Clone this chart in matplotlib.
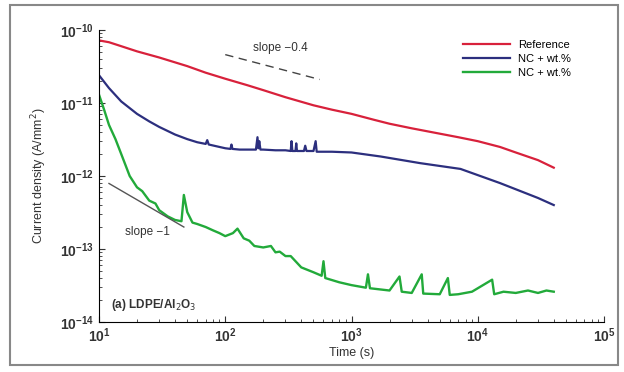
import matplotlib
matplotlib.use("Agg")
import matplotlib.pyplot as plt
from matplotlib.patches import Rectangle

plt.rcParams['font.family'] = ['Liberation Sans', 'DejaVu Sans']

# ---- data ----
t_ref = [10, 12, 15, 20, 30, 50, 70, 100, 150, 200, 300, 500, 700, 1000, 1500,
         2000, 3000, 5000, 7000, 10000, 15000, 20000, 30000, 40000]
j_ref = [7.2e-11, 6.8e-11, 6.0e-11, 5.1e-11, 4.2e-11, 3.2e-11, 2.6e-11, 2.15e-11,
         1.75e-11, 1.5e-11, 1.2e-11, 9.3e-12, 8.1e-12, 7.1e-12, 5.9e-12, 5.2e-12,
         4.5e-12, 3.8e-12, 3.4e-12, 3.0e-12, 2.5e-12, 2.1e-12, 1.65e-12, 1.3e-12]

t_nc1 = [10, 12, 15, 20, 25, 30, 40, 50, 60, 70, 72, 74, 90, 100, 110, 112, 114,
         130, 150, 175, 180, 183, 186, 190, 200, 250, 300, 330, 335, 340, 360, 365,
         370, 420, 430, 440, 500, 520, 530, 560, 700, 1000, 1700, 3500, 7300,
         15000, 30000, 40000]
j_nc1 = [2.4e-11, 1.6e-11, 1.05e-11, 7.1e-12, 5.6e-12, 4.7e-12, 3.7e-12, 3.2e-12,
         2.9e-12, 2.75e-12, 3.1e-12, 2.7e-12, 2.5e-12, 2.4e-12, 2.35e-12, 2.7e-12,
         2.35e-12, 2.3e-12, 2.3e-12, 2.3e-12, 3.4e-12, 2.4e-12, 3.0e-12, 2.3e-12,
         2.3e-12, 2.25e-12, 2.25e-12, 2.2e-12, 3.0e-12, 2.2e-12, 2.2e-12, 2.8e-12,
         2.2e-12, 2.2e-12, 2.6e-12, 2.2e-12, 2.2e-12, 3.0e-12, 2.15e-12, 2.15e-12,
         2.15e-12, 2.1e-12, 1.85e-12, 1.5e-12, 1.25e-12, 8.0e-13, 5.0e-13, 4.0e-13]

t_nc2 = [10, 11, 12, 13.5, 15, 17.5, 20, 22, 25, 28, 30, 35, 40, 45, 47, 50, 55,
         60, 70, 80, 90, 100, 115, 125, 140, 155, 170, 200, 230, 250, 270, 300,
         330, 400, 500, 580, 600, 620, 800, 1000, 1300, 1350, 1400, 2000, 2400,
         2500, 3000, 3600, 3700, 5000, 5800, 6000, 7000, 9000, 13000, 13500,
         16000, 20000, 25000, 30000, 35000, 40000]
j_nc2 = [1.3e-11, 8e-12, 5e-12, 3.2e-12, 2e-12, 1.0e-12, 7e-13, 6.2e-13, 4.6e-13,
         4.2e-13, 3.4e-13, 2.8e-13, 2.5e-13, 2.4e-13, 5.5e-13, 3.2e-13, 2.3e-13,
         2.2e-13, 2.0e-13, 1.8e-13, 1.65e-13, 1.5e-13, 1.65e-13, 1.9e-13, 1.4e-13,
         1.3e-13, 1.1e-13, 1.05e-13, 1.1e-13, 9e-14, 9.2e-14, 8e-14, 8e-14, 5.6e-14,
         4.8e-14, 4.3e-14, 6.8e-14, 4.0e-14, 3.5e-14, 3.2e-14, 2.95e-14, 4.5e-14,
         2.9e-14, 2.7e-14, 4.2e-14, 2.6e-14, 2.5e-14, 4.5e-14, 2.45e-14, 2.4e-14,
         4.0e-14, 2.35e-14, 2.4e-14, 2.6e-14, 3.8e-14, 2.4e-14, 2.6e-14, 2.5e-14,
         2.7e-14, 2.5e-14, 2.7e-14, 2.6e-14]

labels = ["Reference", "NC + wt.%", "NC + wt.%"]
colors = ["#d8213b", "#2c2f7e", "#22aa3a"]

x_ticks = [1e1, 1e2, 1e3, 1e4, 1e5]
y_ticks = [1e-14, 1e-13, 1e-12, 1e-11, 1e-10]

slope04_t = [100, 560]
slope04_j = [4.6e-11, 2.1e-11]
slope1_t = [12, 47]
slope1_j = [7.9e-13, 2.0e-13]

# ---- figure ----
fig = plt.figure(figsize=(6.24, 3.72), dpi=100)
fig.patches.append(Rectangle((10/624, 1-365/372), 608/624, 360/372,
                             transform=fig.transFigure, fill=False,
                             edgecolor="#888888", linewidth=1.5))
ax = fig.add_axes([99/624, 1-322/372, 505/624, 292/372])

ax.plot(t_ref, j_ref, color=colors[0], lw=1.6, label=labels[0])
ax.plot(t_nc1, j_nc1, color=colors[1], lw=1.6, label=labels[1])
ax.plot(t_nc2, j_nc2, color=colors[2], lw=1.7, label=labels[2])

ax.plot(slope04_t, slope04_j, color="#444444", lw=1.0, ls=(0, (6, 4)))
ax.plot(slope1_t, slope1_j, color="#555555", lw=1.0)
ax.text(165, 5.7e-11, "slope \u22120.4", fontsize=8.5, color="#333333",
        va="center")
ax.text(16, 1.55e-13, "slope \u22121", fontsize=8.5, color="#333333")
ax.text(12.5, 1.55e-14, "(a) LDPE/Al$_2$O$_3$", fontsize=8.5, fontweight="bold",
        color="#333333")

ax.set_xscale("log")
ax.set_yscale("log")
ax.set_xticks(x_ticks)
ax.set_yticks(y_ticks)
ax.set_xlim(10, 1e5)
ax.set_ylim(1e-14, 1e-10)
ax.spines["top"].set_visible(False)
ax.spines["right"].set_visible(False)
ax.tick_params(which="both", direction="in", labelsize=10, colors="#333333")
ax.tick_params(which="major", length=4)
ax.tick_params(which="minor", length=2)
for lab in ax.get_xticklabels() + ax.get_yticklabels():
    lab.set_fontweight("bold")
ax.set_xlabel("Time (s)", fontsize=9, color="#333333", labelpad=1)
ax.set_ylabel("Current density (A/mm$^2$)", fontsize=9, color="#333333",
              labelpad=8)

ax.legend(loc="upper right", frameon=False, fontsize=8, handlelength=4.2,
          labelspacing=0.35, bbox_to_anchor=(0.955, 1.0))

fig.savefig("out.png", dpi=100)
